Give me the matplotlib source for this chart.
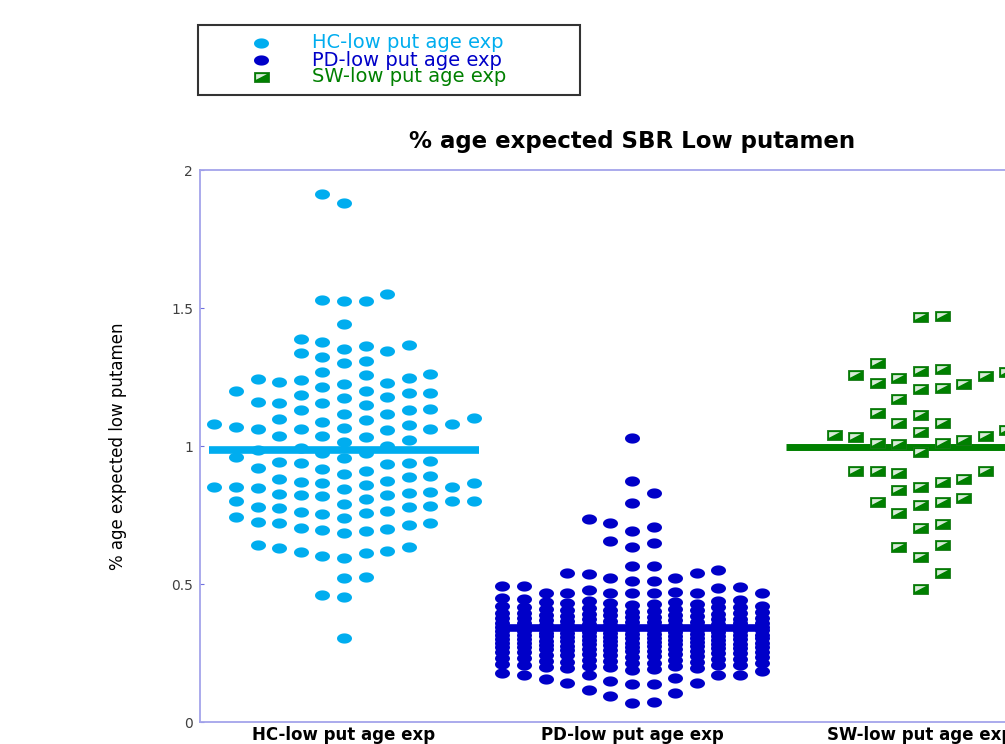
import numpy as np
import matplotlib.pyplot as plt
from matplotlib.path import Path
from matplotlib.patches import Rectangle
from matplotlib.lines import Line2D

# groups / labels
groups = ['HC-low put age exp', 'PD-low put age exp', 'SW-low put age exp']

# values (% age expected SBR, low putamen)
hc_vals = [1.912, 1.879,
           1.551, 1.525, 1.525, 1.529, 1.441, 1.376, 1.362, 1.345, 1.389, 1.321,
           1.336, 1.351, 1.365, 1.307, 1.300, 1.268, 1.257, 1.261, 1.245, 1.240,
           1.229, 1.214, 1.199, 1.193, 1.184, 1.193, 1.200, 1.224, 1.231, 1.242,
           1.174, 1.157, 1.148, 1.117, 1.132, 1.157, 1.158, 1.176, 1.135, 1.115,
           1.132, 1.077, 1.065, 1.060, 1.057, 1.097, 1.088, 1.080, 1.080, 1.095,
           1.102, 1.060, 1.060, 1.069, 1.035, 1.022, 1.014, 1.032, 1.035,
           0.985, 0.992, 1.000,
           0.973, 0.955, 0.943, 0.937, 0.919, 0.935, 0.940, 0.947, 0.961, 0.976,
           0.917, 0.899, 0.889, 0.874, 0.867, 0.858, 0.867, 0.870, 0.879, 0.891, 0.911,
           0.853, 0.850, 0.843, 0.829, 0.822, 0.819, 0.807, 0.822, 0.826, 0.834, 0.849, 0.853,
           0.802, 0.790, 0.778, 0.774, 0.762, 0.754, 0.756, 0.763, 0.780, 0.783, 0.800, 0.800,
           0.742, 0.726, 0.720, 0.704, 0.696, 0.686, 0.693, 0.698, 0.714, 0.722, 0.740,
           0.640, 0.629, 0.617, 0.603, 0.594, 0.611, 0.618, 0.635,
           0.521, 0.527, 0.460, 0.452, 0.303]

pd_vals = [1.028, 0.873, 0.831, 0.795, 0.734, 0.722, 0.705, 0.692, 0.656, 0.647, 0.635,
           0.565, 0.565, 0.551, 0.541, 0.541, 0.536, 0.523, 0.523, 0.512, 0.511, 0.494, 0.494,
           0.490, 0.484, 0.478, 0.472, 0.468, 0.466, 0.466, 0.466, 0.466, 0.466, 0.466,
           0.448, 0.430, 0.396,
           0.445, 0.441, 0.438, 0.435, 0.431, 0.428, 0.425, 0.421, 0.418, 0.416, 0.412,
           0.409, 0.407, 0.404, 0.401, 0.398, 0.395, 0.392, 0.389, 0.386, 0.384, 0.381,
           0.378, 0.376, 0.373, 0.371, 0.367, 0.364, 0.362, 0.359, 0.357, 0.354, 0.352,
           0.349, 0.346, 0.344, 0.341, 0.339, 0.336, 0.333, 0.331, 0.328, 0.325, 0.323,
           0.319, 0.318, 0.315, 0.312, 0.309, 0.307, 0.304, 0.302, 0.298, 0.296, 0.293,
           0.291, 0.287, 0.285, 0.282, 0.279, 0.277, 0.273, 0.271, 0.268, 0.266, 0.262,
           0.259, 0.257, 0.253, 0.251, 0.248, 0.244, 0.241, 0.238, 0.236, 0.231, 0.229,
           0.226, 0.221, 0.219, 0.214, 0.212, 0.207, 0.205, 0.201, 0.197, 0.192, 0.186,
           0.372, 0.358, 0.343, 0.335, 0.327, 0.316, 0.305, 0.297, 0.288, 0.276, 0.264,
           0.352, 0.338, 0.321, 0.311, 0.283,
           0.189, 0.195, 0.199, 0.203, 0.208, 0.210, 0.215, 0.217, 0.222, 0.224, 0.228,
           0.233, 0.234, 0.239, 0.243, 0.246, 0.249, 0.252, 0.255, 0.258, 0.261, 0.263,
           0.267, 0.270, 0.272, 0.275, 0.278, 0.281, 0.284, 0.286, 0.289, 0.292, 0.295,
           0.299, 0.301, 0.303, 0.306, 0.310, 0.313, 0.314, 0.317, 0.320, 0.322, 0.326,
           0.329, 0.332, 0.334, 0.337, 0.340, 0.342, 0.345, 0.348, 0.350, 0.353, 0.356,
           0.360, 0.363, 0.366, 0.369, 0.374, 0.377, 0.380, 0.383, 0.388, 0.391, 0.396,
           0.400, 0.405, 0.410, 0.415, 0.420, 0.426, 0.433, 0.440,
           0.203, 0.176, 0.170, 0.170, 0.154, 0.158, 0.170, 0.170, 0.140, 0.136, 0.136,
           0.140, 0.150, 0.106, 0.116, 0.094, 0.074, 0.068]

sw_vals = [1.472, 1.467, 1.301, 1.257, 1.248, 1.278, 1.269, 1.272, 1.254, 1.223,
           1.207, 1.211, 1.227, 1.170, 1.120, 1.114, 1.085, 1.082, 1.058, 1.052,
           1.037, 1.022, 1.010, 0.979, 1.007, 1.012, 1.034, 1.040,
           0.909, 0.909, 0.879, 0.853, 0.871, 0.903, 0.909, 0.841, 0.798, 0.758,
           0.786, 0.796, 0.813, 0.702, 0.716, 0.641, 0.599, 0.635, 0.541, 0.481]

group_means = [0.986, 0.339, 0.997]
colors = ['#00adef', '#0000c8', '#008000']

W, H = 1005, 744
fig = plt.figure(figsize=(W / 100, H / 100), dpi=100)
ax = fig.add_axes([200 / W, 22 / H, 864 / W, 552 / H])

# marker shapes (the original figure was stretched, so round dots are ellipses)
t = np.linspace(0, 2 * np.pi, 41)
ellipse = Path(np.column_stack([np.cos(t), 0.68 * np.sin(t)]), closed=True)
rect = Path([(-1, -0.67), (1, -0.67), (1, 0.67), (-1, 0.67), (-1, -0.67)], closed=True)
tri = Path([(-0.72, -0.3), (0.72, 0.45), (-0.72, 0.45), (-0.72, -0.3)], closed=True)


def swarm_x(values, center, d, step=0.075, ncol=13):
    # column beeswarm: lowest free column nearest the centre, else least crowded
    vals = np.asarray(values, float)
    half = ncol // 2
    cols = list(range(-half, half + 1))
    last = {k: -np.inf for k in cols}
    xs = np.empty(len(vals))
    flip = 1
    for i in np.argsort(vals, kind='stable'):
        v = vals[i]
        if v - last[0] >= d:
            k = 0
            flip = -flip
        else:
            cands = sorted(cols, key=lambda c: (abs(c), c * flip))
            free = [c for c in cands if v - last[c] >= d]
            k = free[0] if free else min(cands, key=lambda c: last[c])
        last[k] = v
        xs[i] = center + k * step
    return xs


data = [hc_vals, pd_vals, sw_vals]
gaps = [0.05, 0.05, 0.062]
halfw = [0.47, 0.435, 0.465]
ms = 10.8

for i, vals in enumerate(data):
    pos = i + 1
    xs = swarm_x(vals, pos, gaps[i])
    if i < 2:
        ax.plot(xs, vals, ls='none', marker=ellipse, ms=ms, mfc=colors[i], mec=colors[i], mew=0, zorder=2)
        ax.plot([pos - halfw[i], pos + halfw[i]], [group_means[i]] * 2, color=colors[i], lw=5.5,
                solid_capstyle='butt', zorder=3)
    else:
        ax.plot([pos - halfw[i], pos + halfw[i]], [group_means[i]] * 2, color=colors[i], lw=5.0,
                solid_capstyle='butt', zorder=3)
        ax.plot(xs, vals, ls='none', marker=rect, ms=ms, mfc=colors[i], mec='#1a7a1a', mew=0.6, zorder=4)
        ax.plot(xs, vals, ls='none', marker=tri, ms=ms * 0.72, mfc='white', mec='none', alpha=0.85, zorder=5)

ax.set_xlim(0.5, 3.5)
ax.set_ylim(0, 2)
ax.set_xticks([1, 2, 3])
ax.set_xticklabels(groups, fontsize=12, fontweight='bold')
ax.set_yticks([0, 0.5, 1, 1.5, 2])
ax.set_yticklabels(['0', '0.5', '1', '1.5', '2'])
ax.tick_params(axis='x', length=0, pad=3)
ax.tick_params(axis='y', direction='in', length=3, color='#7070e0', labelsize=10,
               labelcolor='#404040', pad=5)
for s in ax.spines.values():
    s.set_color('#a4a4ea')
    s.set_linewidth(1.3)

ax.set_title('% age expected SBR Low putamen', fontsize=16.5, fontweight='bold', pad=16)
ax.set_ylabel('% age expected low putamen', fontsize=12)
ax.yaxis.set_label_coords(-0.0845, 0.5)

# legend box drawn above the axes
fig.add_artist(Rectangle((198 / W, 1 - 95 / H), 382 / W, 70 / H, transform=fig.transFigure,
                         fill=False, ec='#333333', lw=1.5))
for i, lab in enumerate(groups):
    yy = 1 - (43 + 17 * i) / H
    if i < 2:
        fig.add_artist(Line2D([261 / W], [yy], transform=fig.transFigure, ls='none', marker=ellipse,
                              ms=ms, mfc=colors[i], mec=colors[i], mew=0))
    else:
        fig.add_artist(Line2D([261 / W], [yy], transform=fig.transFigure, ls='none', marker=rect,
                              ms=ms, mfc=colors[i], mec='#1a7a1a', mew=0.6))
        fig.add_artist(Line2D([261 / W], [yy], transform=fig.transFigure, ls='none', marker=tri,
                              ms=ms * 0.72, mfc='white', mec='none', alpha=0.85))
    fig.text(312 / W, yy, lab, color=colors[i], fontsize=14, va='center')

fig.savefig('out.png', dpi=100)
